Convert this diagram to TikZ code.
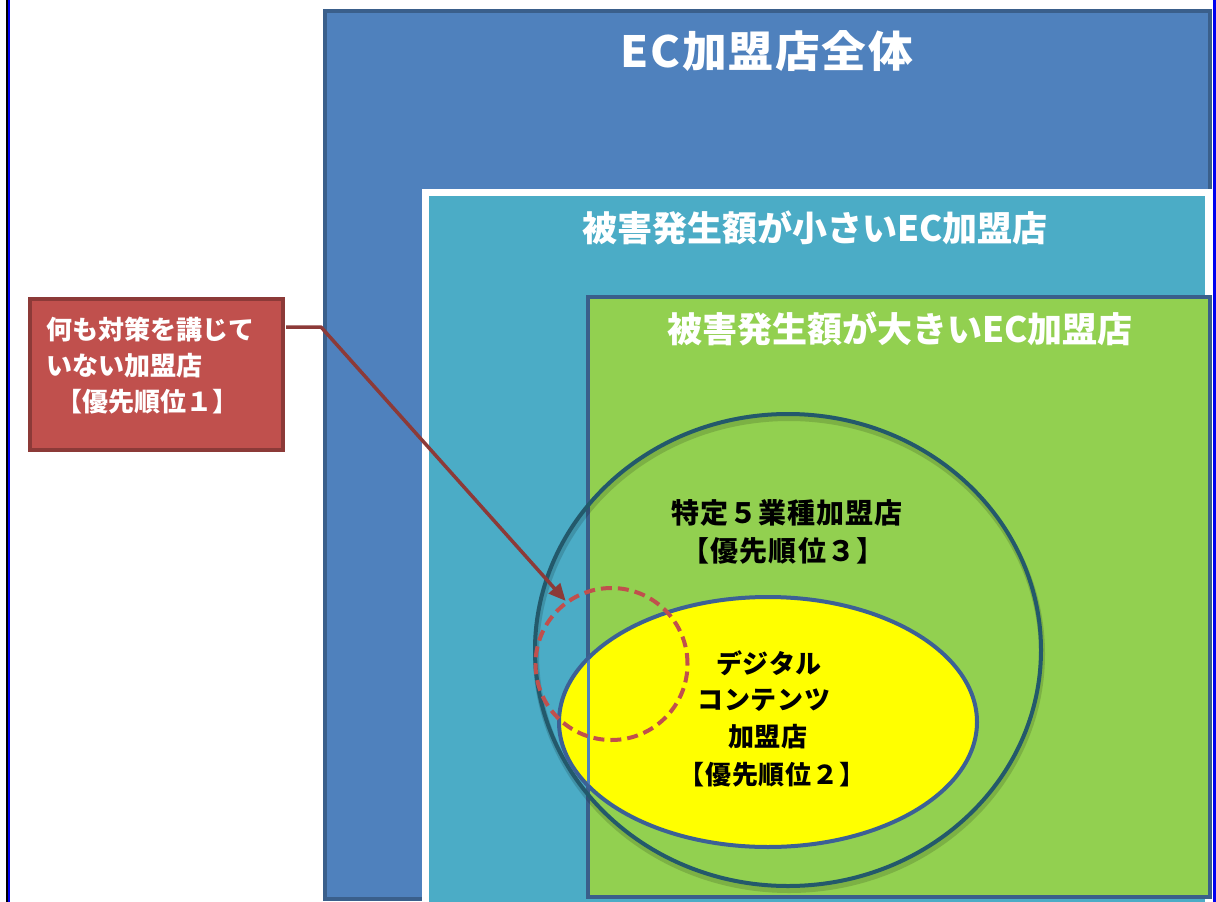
\documentclass[tikz,border=0pt]{standalone}
\usepackage{fontspec}
\newfontfamily\jp{Noto Sans CJK JP}
\usetikzlibrary{arrows.meta}
\definecolor{blueF}{HTML}{4F81BD}
\definecolor{blueD}{HTML}{3A5F8B}
\definecolor{cyanF}{HTML}{4BACC6}
\definecolor{greenF}{HTML}{92D050}
\definecolor{tealD}{HTML}{23596B}
\definecolor{yelF}{HTML}{FFFF00}
\definecolor{yelD}{HTML}{3C6195}
\definecolor{redF}{HTML}{C0504D}
\definecolor{redD}{HTML}{8C3A38}
\definecolor{pageblue}{HTML}{0000F0}
\tikzset{
  boxline/.style={line width=4pt, draw=blueD},
  wtitle/.style={text=white, inner sep=0pt},
  btext/.style={text=black, inner sep=0pt},
}
\begin{document}
\begin{tikzpicture}[x=1pt,y=-1pt]
\useasboundingbox (0,0) rectangle (1216,902);
\begin{scope}
\clip (0,0) rectangle (1216,902);
\fill[white] (0,0) rectangle (1216,902);
% page edge lines
\fill[black] (6,0) rectangle (8,902);
\fill[pageblue] (8,0) rectangle (10,902);
\fill[pageblue] (1213,0) rectangle (1216,902);
% outer box
\draw[boxline, fill=blueF] (325,11) rectangle (1210,899);
% middle box
\draw[line width=7pt, draw=white, fill=cyanF] (425,192) rectangle (1208.5,907);
% inner green box
\draw[boxline, fill=greenF] (588,297) rectangle (1210,897);
% titles
\node[wtitle, font=\jp\bfseries\fontsize{43}{50}\selectfont\addfontfeatures{LetterSpace=4}] (t1) at (767,51) {\scalebox{1.04}[1]{EC加盟店全体}};
\node[wtitle, font=\jp\bfseries\fontsize{35}{40}\selectfont] (t2) at (815,228) {被害発生額が小さいEC加盟店};
\node[wtitle, font=\jp\bfseries\fontsize{35}{40}\selectfont] (t3) at (900,329) {被害発生額が大きいEC加盟店};
% big circle with soft shadow
\draw[line width=6pt, black, opacity=0.15] (789,654) ellipse [x radius=253, y radius=236];
\draw[line width=4pt, tealD] (788,650) ellipse [x radius=253, y radius=236];
% yellow ellipse
\draw[line width=4pt, draw=yelD, fill=yelF] (768,722) ellipse [x radius=209, y radius=125];
\begin{scope}
\clip (768,722) ellipse [x radius=207, y radius=123];
\draw[line width=3pt, blueF] (588,590) -- (588,860);
\end{scope}
% texts
\node[btext, font=\jp\bfseries\fontsize{28}{30}\selectfont\addfontfeatures{LetterSpace=4}] (s1) at (787,513) {特定５業種加盟店};
\node[btext, font=\jp\bfseries\fontsize{28}{30}\selectfont\addfontfeatures{LetterSpace=4}] (s2) at (783,551) {【優先順位３】};
\node[btext, font=\jp\bfseries\fontsize{26}{30}\selectfont\addfontfeatures{LetterSpace=3}] (y1) at (769,663) {デジタル};
\node[btext, font=\jp\bfseries\fontsize{26}{30}\selectfont\addfontfeatures{LetterSpace=3}] (y2) at (764,700) {コンテンツ};
\node[btext, font=\jp\bfseries\fontsize{26}{30}\selectfont\addfontfeatures{LetterSpace=3}] (y3) at (768,737) {加盟店};
\node[btext, font=\jp\bfseries\fontsize{26}{30}\selectfont\addfontfeatures{LetterSpace=3}] (y4) at (772,775) {【優先順位２】};
% dashed circle
\node[circle, draw=redF, line width=4pt, dash pattern=on 11pt off 6pt, minimum size=152pt, inner sep=0pt] (dc) at (611.5,664) {};
% red box
\node[draw=redD, fill=redF, line width=3.5pt, minimum width=253pt, minimum height=151pt, anchor=north west, inner sep=0pt] (rbox) at (28,297) {};
\node[text=white, anchor=west, align=left, inner sep=0pt, font=\jp\bfseries\fontsize{26}{36}\selectfont] (rtext) at (46,366) {何も対策を講じて\\いない加盟店\\\hspace*{10pt}【優先順位１】};
% arrow
\coordinate (a0) at (286,327);
\coordinate (a1) at (321,327);
\draw[redD, line width=3.5pt, line join=round, -{Triangle[length=17pt,width=15pt]}] (a0) -- (a1) -- (dc.126);
\end{scope}
\end{tikzpicture}
\end{document}
